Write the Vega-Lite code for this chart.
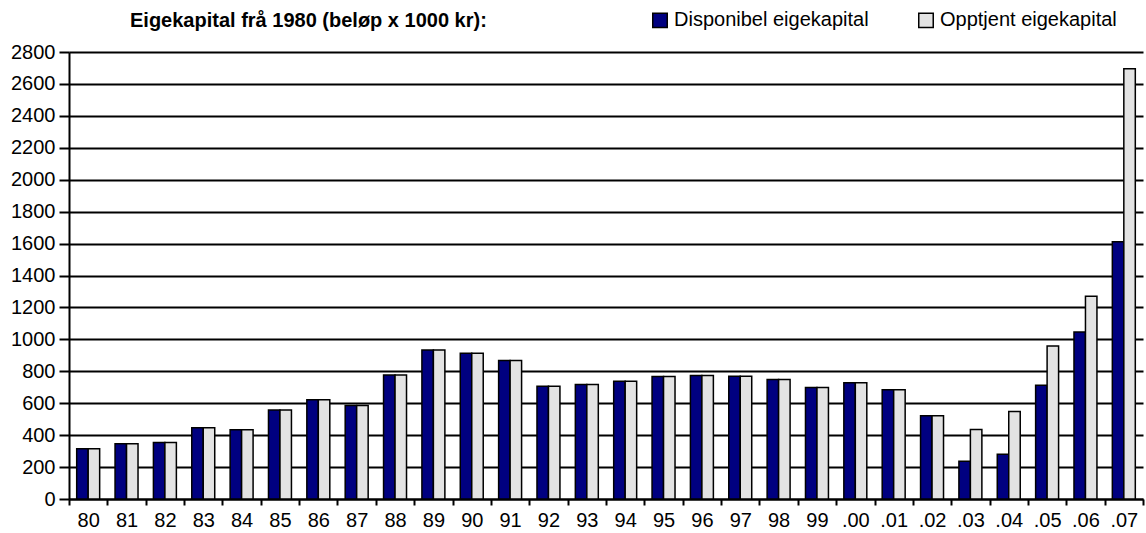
{
  "$schema": "https://vega.github.io/schema/vega-lite/v6.json",
  "autosize": {"type": "none"},
  "padding": {"left": 69, "top": 52, "right": 3, "bottom": 34},
  "width": 1074,
  "height": 447,
  "background": "white",
  "config": {
    "font": "Liberation Sans",
    "view": {"stroke": null},
    "axis": {"labelColor": "black", "labelFont": "Liberation Sans"}
  },
  "title": {
    "text": "Eigekapital frå 1980 (beløp x 1000 kr):",
    "font": "Liberation Sans",
    "fontSize": 20,
    "fontWeight": "bold",
    "color": "black",
    "anchor": "start",
    "frame": "group",
    "dx": 61,
    "offset": 0,
    "dy": 21
  },
  "data": {
    "values": [
      {"year": "80", "serie": "Disponibel eigekapital", "value": 315},
      {"year": "80", "serie": "Opptjent eigekapital", "value": 315},
      {"year": "81", "serie": "Disponibel eigekapital", "value": 346},
      {"year": "81", "serie": "Opptjent eigekapital", "value": 346},
      {"year": "82", "serie": "Disponibel eigekapital", "value": 354},
      {"year": "82", "serie": "Opptjent eigekapital", "value": 354},
      {"year": "83", "serie": "Disponibel eigekapital", "value": 446},
      {"year": "83", "serie": "Opptjent eigekapital", "value": 446},
      {"year": "84", "serie": "Disponibel eigekapital", "value": 433},
      {"year": "84", "serie": "Opptjent eigekapital", "value": 433},
      {"year": "85", "serie": "Disponibel eigekapital", "value": 557},
      {"year": "85", "serie": "Opptjent eigekapital", "value": 557},
      {"year": "86", "serie": "Disponibel eigekapital", "value": 621},
      {"year": "86", "serie": "Opptjent eigekapital", "value": 621},
      {"year": "87", "serie": "Disponibel eigekapital", "value": 586},
      {"year": "87", "serie": "Opptjent eigekapital", "value": 586},
      {"year": "88", "serie": "Disponibel eigekapital", "value": 776},
      {"year": "88", "serie": "Opptjent eigekapital", "value": 776},
      {"year": "89", "serie": "Disponibel eigekapital", "value": 934},
      {"year": "89", "serie": "Opptjent eigekapital", "value": 934},
      {"year": "90", "serie": "Disponibel eigekapital", "value": 913},
      {"year": "90", "serie": "Opptjent eigekapital", "value": 913},
      {"year": "91", "serie": "Disponibel eigekapital", "value": 867},
      {"year": "91", "serie": "Opptjent eigekapital", "value": 867},
      {"year": "92", "serie": "Disponibel eigekapital", "value": 707},
      {"year": "92", "serie": "Opptjent eigekapital", "value": 707},
      {"year": "93", "serie": "Disponibel eigekapital", "value": 717},
      {"year": "93", "serie": "Opptjent eigekapital", "value": 717},
      {"year": "94", "serie": "Disponibel eigekapital", "value": 738},
      {"year": "94", "serie": "Opptjent eigekapital", "value": 738},
      {"year": "95", "serie": "Disponibel eigekapital", "value": 767},
      {"year": "95", "serie": "Opptjent eigekapital", "value": 767},
      {"year": "96", "serie": "Disponibel eigekapital", "value": 773},
      {"year": "96", "serie": "Opptjent eigekapital", "value": 773},
      {"year": "97", "serie": "Disponibel eigekapital", "value": 769},
      {"year": "97", "serie": "Opptjent eigekapital", "value": 769},
      {"year": "98", "serie": "Disponibel eigekapital", "value": 748},
      {"year": "98", "serie": "Opptjent eigekapital", "value": 748},
      {"year": "99", "serie": "Disponibel eigekapital", "value": 698},
      {"year": "99", "serie": "Opptjent eigekapital", "value": 698},
      {"year": ".00", "serie": "Disponibel eigekapital", "value": 728},
      {"year": ".00", "serie": "Opptjent eigekapital", "value": 728},
      {"year": ".01", "serie": "Disponibel eigekapital", "value": 685},
      {"year": ".01", "serie": "Opptjent eigekapital", "value": 685},
      {"year": ".02", "serie": "Disponibel eigekapital", "value": 521},
      {"year": ".02", "serie": "Opptjent eigekapital", "value": 521},
      {"year": ".03", "serie": "Disponibel eigekapital", "value": 237},
      {"year": ".03", "serie": "Opptjent eigekapital", "value": 435},
      {"year": ".04", "serie": "Disponibel eigekapital", "value": 280},
      {"year": ".04", "serie": "Opptjent eigekapital", "value": 548},
      {"year": ".05", "serie": "Disponibel eigekapital", "value": 713},
      {"year": ".05", "serie": "Opptjent eigekapital", "value": 958},
      {"year": ".06", "serie": "Disponibel eigekapital", "value": 1046},
      {"year": ".06", "serie": "Opptjent eigekapital", "value": 1270},
      {"year": ".07", "serie": "Disponibel eigekapital", "value": 1611},
      {"year": ".07", "serie": "Opptjent eigekapital", "value": 2695}
    ]
  },
  "mark": {"type": "bar", "stroke": "black", "strokeWidth": 1.5},
  "encoding": {
    "x": {
      "field": "year",
      "type": "nominal",
      "sort": null,
      "scale": {"paddingInner": 0, "paddingOuter": 0},
      "axis": {
        "title": null,
        "labelAngle": 0,
        "labelFontSize": 20,
        "labelPadding": 5,
        "tickBand": "extent",
        "tickColor": "black",
        "tickWidth": 2,
        "tickSize": 6,
        "domainColor": "black",
        "domainWidth": 2,
        "grid": false
      }
    },
    "xOffset": {
      "field": "serie",
      "type": "nominal",
      "scale": {"paddingInner": 0, "paddingOuter": 0.67}
    },
    "y": {
      "field": "value",
      "type": "quantitative",
      "scale": {"domain": [0, 2800], "nice": false},
      "axis": {
        "title": null,
        "values": [0, 200, 400, 600, 800, 1000, 1200, 1400, 1600, 1800, 2000, 2200, 2400, 2600, 2800],
        "format": "d",
        "labelFontSize": 20,
        "labelPadding": 4,
        "tickColor": "black",
        "tickWidth": 2,
        "tickSize": 10,
        "domainColor": "black",
        "domainWidth": 2,
        "grid": true,
        "gridColor": "black",
        "gridWidth": 2,
        "gridOpacity": 1
      }
    },
    "color": {
      "field": "serie",
      "type": "nominal",
      "scale": {
        "domain": ["Disponibel eigekapital", "Opptjent eigekapital"],
        "range": ["#000080", "#e3e3e3"]
      },
      "legend": {
        "title": null,
        "orient": "none",
        "direction": "horizontal",
        "legendX": 581,
        "legendY": -42,
        "symbolType": "square",
        "symbolSize": 210,
        "symbolStrokeColor": "black",
        "symbolStrokeWidth": 1.5,
        "symbolOpacity": 1,
        "labelFontSize": 20,
        "labelColor": "black",
        "labelFont": "Liberation Sans",
        "labelOffset": 4,
        "columnPadding": 46,
        "labelLimit": 400
      }
    }
  }
}
